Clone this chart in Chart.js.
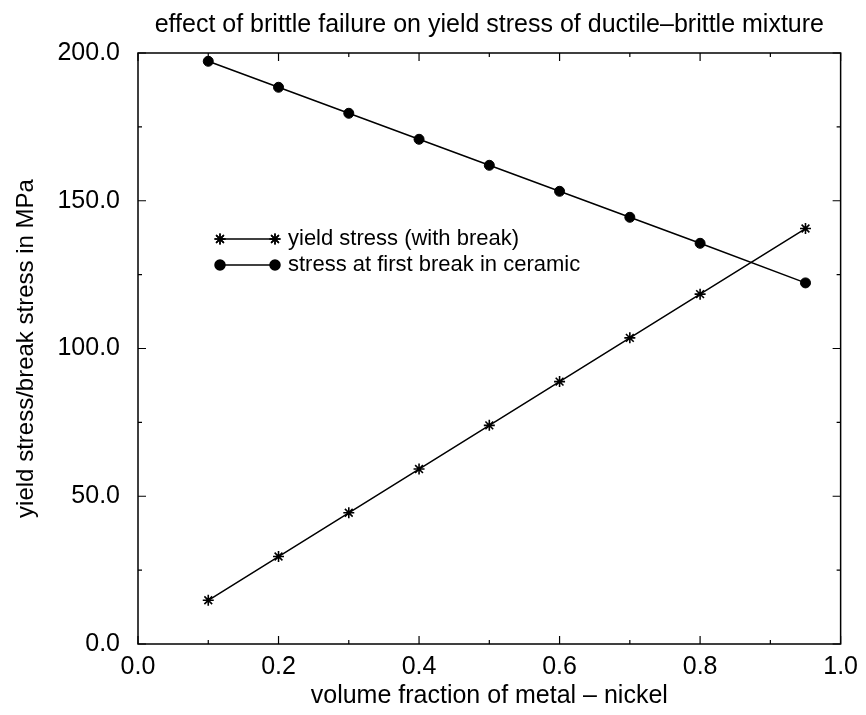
<!DOCTYPE html>
<html>
<head>
<meta charset="utf-8">
<script src="https://cdn.jsdelivr.net/npm/chart.js@4"></script>
<style>
  html, body { margin: 0; padding: 0; background: #fff; }
  #chartSet { width: 866px; height: 715px; }
</style>
</head>
<body>
<div id="chartSet"><canvas id="ct" width="866" height="715"></canvas></div>
<script>
// values
const xValues = [0.1, 0.2, 0.3, 0.4, 0.5, 0.6, 0.7, 0.8, 0.95];
const yieldValues = [14.8, 29.6, 44.4, 59.2, 74.0, 88.8, 103.6, 118.4, 140.6];
const breakValues = [197.2, 188.4, 179.6, 170.8, 162.0, 153.2, 144.4, 135.6, 122.2];
const xTicks = [0.0, 0.2, 0.4, 0.6, 0.8, 1.0];
const yTicks = [0.0, 50.0, 100.0, 150.0, 200.0];
const xMinorStep = 0.1;
const yMinorStep = 25;
const titleText = 'effect of brittle failure on yield stress of ductile\u2013brittle mixture';

const fontFam = "'Liberation Sans', Arial, Helvetica, sans-serif";

function pairs(xs, ys) {
    return xs.map((x, i) => ({x: x, y: ys[i]}));
}

// title over the plot, frame, inside tick marks on all four sides, legend inside the plot
const framePlugin = {
    id: 'frame',
    afterDatasetsDraw(chart) {
        const ctx = chart.ctx;
        const a = chart.chartArea;
        const xs = chart.scales.x, ys = chart.scales.y;
        ctx.save();
        ctx.fillStyle = '#000';
        ctx.font = '25px ' + fontFam;
        ctx.textAlign = 'center';
        ctx.textBaseline = 'alphabetic';
        ctx.fillText(titleText, (a.left + a.right) / 2, 32);

        ctx.strokeStyle = '#000';
        ctx.lineWidth = 1.5;
        ctx.strokeRect(a.left, a.top, a.right - a.left, a.bottom - a.top);

        ctx.lineWidth = 1.2;
        ctx.beginPath();
        for (let v = xs.min; v <= xs.max + 1e-9; v += xMinorStep) {
            const px = xs.getPixelForValue(v);
            const major = xTicks.some(t => Math.abs(t - v) < 1e-6);
            const len = major ? 8 : 4;
            ctx.moveTo(px, a.bottom); ctx.lineTo(px, a.bottom - len);
            ctx.moveTo(px, a.top); ctx.lineTo(px, a.top + len);
        }
        for (let v = ys.min; v <= ys.max + 1e-9; v += yMinorStep) {
            const py = ys.getPixelForValue(v);
            const major = yTicks.some(t => Math.abs(t - v) < 1e-6);
            const len = major ? 8 : 4;
            ctx.moveTo(a.left, py); ctx.lineTo(a.left + len, py);
            ctx.moveTo(a.right, py); ctx.lineTo(a.right - len, py);
        }
        ctx.stroke();

        // legend
        const lx1 = a.left + 82, lx2 = a.left + 137, tx = a.left + 150;
        let ly = a.top + 186;
        ctx.font = '22px ' + fontFam;
        ctx.textBaseline = 'middle';
        ctx.textAlign = 'left';
        chart.data.datasets.forEach(ds => {
            ctx.lineWidth = 1.5;
            ctx.beginPath();
            ctx.moveTo(lx1, ly); ctx.lineTo(lx2, ly);
            ctx.stroke();
            [lx1, lx2].forEach(px => {
                Chart.helpers.drawPoint(ctx, {
                    pointStyle: ds.pointStyle, radius: ds.pointRadius,
                    borderWidth: ds.borderWidth, rotation: 0
                }, px, ly);
                if (ds.pointStyle === 'circle') ctx.fill();
                else ctx.stroke();
            });
            ctx.fillText(ds.label, tx, ly);
            ly += 26;
        });
        ctx.restore();
    }
};

function makeChart() {
    const ct = document.getElementById('ct');
    new Chart(ct, {
        type: 'line',
        data: {
            datasets: [{
                label: 'yield stress (with break)',
                data: pairs(xValues, yieldValues),
                borderColor: '#000',
                backgroundColor: '#000',
                borderWidth: 1.5,
                pointStyle: 'star',
                pointRadius: 5.5,
                pointBorderWidth: 1.6,
                tension: 0
            }, {
                label: 'stress at first break in ceramic',
                data: pairs(xValues, breakValues),
                borderColor: '#000',
                backgroundColor: '#000',
                borderWidth: 1.5,
                pointStyle: 'circle',
                pointRadius: 5,
                pointBorderWidth: 1,
                tension: 0
            }]
        },
        options: {
            responsive: false,
            animation: false,
            devicePixelRatio: 1,
            layout: { padding: { left: 0, right: 21, top: 53, bottom: 0 } },
            plugins: {
                legend: { display: false },
                tooltip: { enabled: false },
                title: { display: false }
            },
            scales: {
                x: {
                    type: 'linear',
                    min: 0, max: 1,
                    afterFit(s) { s.height = 71; },
                    afterBuildTicks(s) { s.ticks = xTicks.map(v => ({value: v})); },
                    grid: { display: false, drawTicks: false },
                    border: { display: false },
                    ticks: {
                        color: '#000',
                        padding: 8,
                        maxRotation: 0,
                        font: { family: fontFam, size: 25 },
                        callback: v => v.toFixed(1)
                    },
                    title: {
                        display: true,
                        text: 'volume fraction of metal \u2013 nickel',
                        color: '#000',
                        font: { family: fontFam, size: 25 },
                        padding: { top: 0, bottom: 4 }
                    }
                },
                y: {
                    type: 'linear',
                    min: 0, max: 200,
                    afterFit(s) { s.width = 138; },
                    afterBuildTicks(s) { s.ticks = yTicks.map(v => ({value: v})); },
                    grid: { display: false, drawTicks: false },
                    border: { display: false },
                    ticks: {
                        color: '#000',
                        padding: 18,
                        font: { family: fontFam, size: 25 },
                        callback: v => v.toFixed(1)
                    },
                    title: {
                        display: true,
                        text: 'yield stress/break stress in MPa',
                        color: '#000',
                        font: { family: fontFam, size: 24 },
                        padding: { top: 12, bottom: 0 }
                    }
                }
            }
        },
        plugins: [framePlugin]
    });
}

makeChart();
</script>
</body>
</html>
